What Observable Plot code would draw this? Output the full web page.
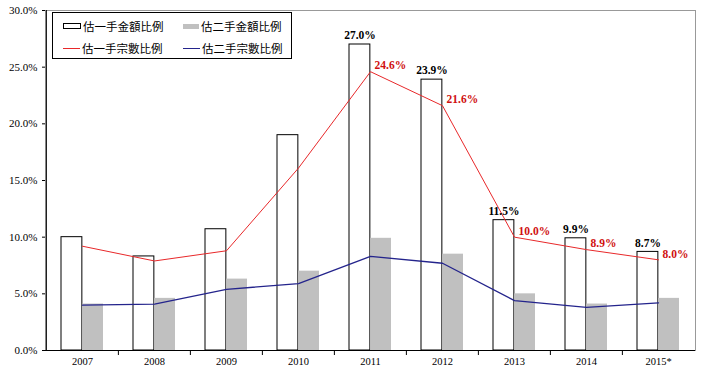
<!DOCTYPE html>
<html>
<head>
<meta charset="utf-8">
<script src="https://cdn.jsdelivr.net/npm/d3@7"></script>
<script src="https://cdn.jsdelivr.net/npm/@observablehq/plot@0.6"></script>
<style>
  html, body { margin: 0; padding: 0; background: #fff; }
  #wrap { position: relative; width: 703px; height: 371px; }
  #legend {
    position: absolute; left: 52px; top: 12px; width: 240px; height: 47px;
    border: 1px solid #000; background: #fff; box-sizing: border-box;
    font-family: "Noto Sans CJK TC", sans-serif; font-size: 11.5px; color: #000;
  }
  .item { position: absolute; display: flex; align-items: center; height: 16px; }
  .item span.t { margin-left: 2px; line-height: 16px; }
  .sw-box { width: 16px; height: 4px; border: 1px solid #000; background: #fff; }
  .sw-gray { width: 16px; height: 5px; background: #c0c0c0; }
  .sw-line { width: 17px; height: 0; border-top: 1px solid; }
</style>
</head>
<body>
<div id="wrap"></div>
<script>
const years = ["2007", "2008", "2009", "2010", "2011", "2012", "2013", "2014", "2015*"];
const firstAmount  = [10.0, 8.3, 10.7, 19.0, 27.0, 23.9, 11.5, 9.9, 8.7];   // 估一手金額比例
const secondAmount = [4.1, 4.6, 6.3, 7.0, 9.9, 8.5, 5.0, 4.1, 4.6];        // 估二手金額比例
const firstCount   = [9.2, 7.9, 8.8, 16.1, 24.6, 21.6, 10.0, 8.9, 8.0];    // 估一手宗數比例
const secondCount  = [4.0, 4.1, 5.4, 5.9, 8.3, 7.7, 4.4, 3.8, 4.2];        // 估二手宗數比例
const yTicks = [0, 5, 10, 15, 20, 25, 30];
const labeledYears = ["2011", "2012", "2013", "2014", "2015*"];
const seriesNames = ["估一手金額比例", "估二手金額比例", "估一手宗數比例", "估二手宗數比例"];

const W = 703, H = 371, mL = 45, mR = 8, mT = 10, mB = 21;
const step = (W - mL - mR) / years.length;
const pxPerUnit = (H - mT - mB) / 30;

const data = years.map((y, i) => ({
  year: y, fa: firstAmount[i], sa: secondAmount[i], fc: firstCount[i], sc: secondCount[i]
}));
const labeled = data.filter(d => labeledYears.includes(d.year));

const serif = "'Liberation Serif', 'Times New Roman', serif";

const chart = Plot.plot({
  width: W, height: H,
  marginLeft: mL, marginRight: mR, marginTop: mT, marginBottom: mB,
  style: { fontFamily: serif, fontSize: "11px", color: "#000", background: "#fff" },
  x: { type: "band", domain: years, paddingInner: 0.415, paddingOuter: 0.2075 },
  y: { domain: [0, 30] },
  marks: [
    Plot.frame({ stroke: "#999" }),
    Plot.barY(data, { x: "year", y: "fa", fill: "#fff", stroke: "#000", strokeWidth: 1, insetRight: 21.15 }),
    Plot.barY(data, { x: "year", y: "sa", fill: "#c0c0c0", insetLeft: 21.15 }),
    Plot.lineY(data, { x: "year", y: "fc", stroke: "#e8282a", strokeWidth: 1 }),
    Plot.lineY(data, { x: "year", y: "sc", stroke: "#24248c", strokeWidth: 1.3 }),
    Plot.ruleY([0], { stroke: "#000" }),
    Plot.ruleX([years[0]], { dx: -step / 2, stroke: "#000" }),
    Plot.ruleX(years.slice(1), { dx: -step / 2, y1: 0, y2: -5 / pxPerUnit, stroke: "#000" }),
    Plot.text(labeled, { x: "year", y: "fa", text: d => d.fa.toFixed(1) + "%", dx: -10.5, dy: -9,
      fontWeight: "bold", fontSize: 11.5, fill: "#000" }),
    Plot.text(labeled, { x: "year", y: "fc", text: d => d.fc.toFixed(1) + "%", dx: 4, dy: -6,
      textAnchor: "start", fontWeight: "bold", fontSize: 11.5, fill: "#d01010" }),
    Plot.axisY({ ticks: yTicks, tickFormat: d => d.toFixed(1) + "%", tickSize: 3, tickPadding: 5, label: null, fontSize: 11 }),
    Plot.axisX({ tickSize: 0, tickPadding: 7, label: null, fontSize: 10.5 })
  ]
});

const wrap = document.getElementById("wrap");
wrap.appendChild(chart);

const legend = document.createElement("div");
legend.id = "legend";
const items = [
  { cls: "sw-box", left: 10, top: 5, name: seriesNames[0] },
  { cls: "sw-gray", left: 130, top: 5, name: seriesNames[1] },
  { cls: "sw-line", left: 10, top: 27, name: seriesNames[2], color: "#e8282a" },
  { cls: "sw-line", left: 130, top: 27, name: seriesNames[3], color: "#24248c" }
];
for (const it of items) {
  const d = document.createElement("div");
  d.className = "item";
  d.style.left = it.left + "px";
  d.style.top = it.top + "px";
  const sw = document.createElement("span");
  sw.className = it.cls;
  if (it.color) sw.style.borderTopColor = it.color;
  const t = document.createElement("span");
  t.className = "t";
  t.textContent = it.name;
  d.appendChild(sw); d.appendChild(t);
  legend.appendChild(d);
}
wrap.appendChild(legend);
</script>
</body>
</html>
